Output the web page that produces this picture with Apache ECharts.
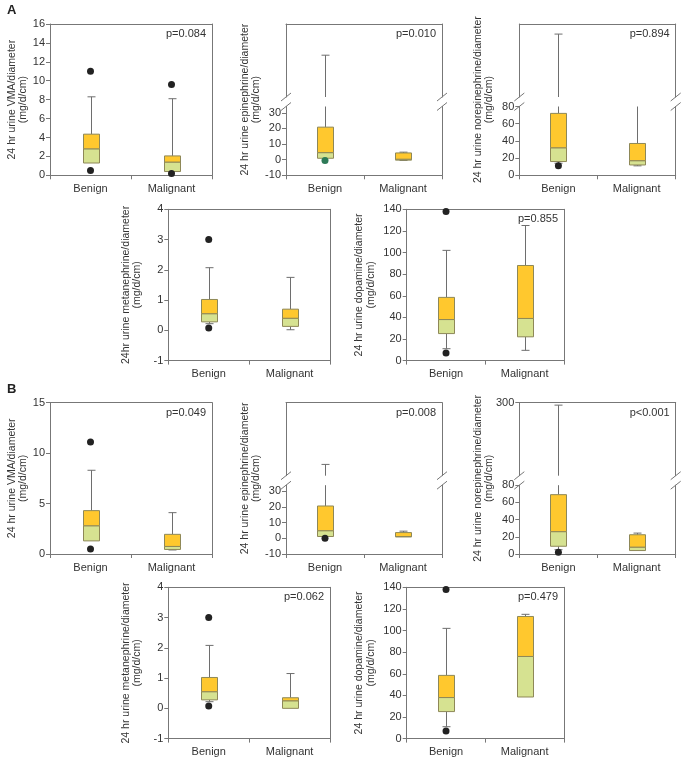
<!DOCTYPE html>
<html>
<head>
<meta charset="utf-8">
<script src="https://cdn.jsdelivr.net/npm/echarts@6/dist/echarts.min.js"></script>
<style>
  html, body { margin: 0; padding: 0; background: #fff; }
  #chart { width: 685px; height: 761px; }
</style>
</head>
<body>
<div id="chart"></div>
<script>
  const categories = ['Benign', 'Malignant'];

  // box stats per category: [low whisker, Q1, median, Q3, high whisker]
  const vmaA = [[1.3, 1.3, 2.8, 4.35, 8.3], [0.4, 0.4, 1.4, 2.05, 8.1]];
  const vmaAOut = [[0, 11], [0, 0.5], [1, 9.6], [1, 0.2]];
  const epiA = [[0.9, 0.9, 4.5, 20.8, 103], [-0.5, -0.3, 0.3, 4.3, 4.8]];
  const epiAOut = [[0, -0.6]];
  const norepiA = [[14, 16, 32, 72, 271], [11, 12, 17, 37, 85]];
  const norepiAOut = [[0, 11]];
  const metaA = [[0.22, 0.28, 0.55, 1.02, 2.07], [0.02, 0.13, 0.4, 0.7, 1.75]];
  const metaAOut = [[0, 3.0], [0, 0.08]];
  const dopaA = [[11, 25, 38, 58.5, 102], [9.5, 22, 39, 88, 125]];
  const dopaAOut = [[0, 138], [0, 7]];

  const vmaB = [[1.3, 1.3, 2.8, 4.3, 8.3], [0.4, 0.45, 0.75, 1.95, 4.1]];
  const vmaBOut = [[0, 11.1], [0, 0.5]];
  const epiB = [[1.2, 1.2, 4.9, 20.7, 57], [0.9, 0.9, 1.2, 3.7, 4.6]];
  const epiBOut = [[0, 0]];
  const norepiB = [[5, 9, 26, 69, 293], [4, 4, 8, 22.4, 24.3]];
  const norepiBOut = [[0, 2]];
  const metaB = [[0.22, 0.28, 0.55, 1.02, 2.08], [0, 0, 0.25, 0.35, 1.15]];
  const metaBOut = [[0, 3.0], [0, 0.08]];
  const dopaB = [[11, 25, 38, 58.5, 102], [38.5, 38.5, 76, 113, 115]];
  const dopaBOut = [[0, 138], [0, 7]];

  // y tick labels
  const epiTicks = [-10, 0, 10, 20, 30];
  const norepiTopTick = [300];

  const FONT = "'Liberation Sans', Arial, sans-serif";
  const AXIS = '#777';
  const TEXT = '#333';
  const ORANGE = '#FFC82E';
  const GREEN = '#D6E291';
  const EDGE = '#8E8858';
  const WHISKER = '#6e6e6e';

  const rowTop = [24, 209.3, 402.7, 587.3];
  const rowH = 151.3;
  const cols3 = [[50, 212], [286, 442], [519.3, 675.7]];
  const cols2 = [[168.3, 330], [406.7, 564]];

  const charts = [
    {row: 0, col: cols3[0], name: '24 hr urine VMA/diameter\n(mg/d/cm)', gap: 19, y: [0, 16, 2], box: vmaA, out: vmaAOut, p: 'p=0.084'},
    {row: 0, col: cols3[1], name: '24 hr urine epinephrine/diameter\n(mg/d/cm)', gap: 24, y: [-10, 34, 10], ticks: epiTicks, upper: [40, 150], box: epiA, out: epiAOut, outColor: '#2d7a57', p: 'p=0.010'},
    {row: 0, col: cols3[2], name: '24 hr urine norepinephrine/diameter\n(mg/d/cm)', gap: 24, y: [0, 80, 20], upper: [90, 300], box: norepiA, out: norepiAOut, p: 'p=0.894'},
    {row: 1, col: cols2[0], name: '24hr urine metanephrine/diameter\n(mg/d/cm)', gap: 25, y: [-1, 4, 1], box: metaA, out: metaAOut, p: ''},
    {row: 1, col: cols2[1], name: '24 hr urine dopamine/diameter\n(mg/d/cm)', gap: 30, y: [0, 140, 20], box: dopaA, out: dopaAOut, p: 'p=0.855'},
    {row: 2, col: cols3[0], name: '24 hr urine VMA/diameter\n(mg/d/cm)', gap: 19, y: [0, 15, 5], box: vmaB, out: vmaBOut, p: 'p=0.049'},
    {row: 2, col: cols3[1], name: '24 hr urine epinephrine/diameter\n(mg/d/cm)', gap: 24, y: [-10, 34, 10], ticks: epiTicks, upper: [40, 150], box: epiB, out: epiBOut, p: 'p=0.008'},
    {row: 2, col: cols3[2], name: '24 hr urine norepinephrine/diameter\n(mg/d/cm)', gap: 24, y: [0, 80, 20], upper: [90, 300], upperTicks: norepiTopTick, box: norepiB, out: norepiBOut, p: 'p<0.001'},
    {row: 3, col: cols2[0], name: '24 hr urine metanephrine/diameter\n(mg/d/cm)', gap: 25, y: [-1, 4, 1], box: metaB, out: metaBOut, p: 'p=0.062'},
    {row: 3, col: cols2[1], name: '24 hr urine dopamine/diameter\n(mg/d/cm)', gap: 30, y: [0, 140, 20], box: dopaB, out: dopaBOut, p: 'p=0.479'}
  ];

  const option = {
    animation: false,
    backgroundColor: '#fff',
    textStyle: {fontFamily: FONT},
    grid: [], xAxis: [], yAxis: [], series: [],
    graphic: [
      {type: 'text', x: 7, y: 4, style: {text: 'A', font: `bold 13px ${FONT}`, fill: '#222'}},
      {type: 'text', x: 7, y: 383, style: {text: 'B', font: `bold 13px ${FONT}`, fill: '#222'}}
    ]
  };

  // 箱体：下半绿色，上半橙色，须线按网格裁剪（断轴时上下两个网格各画一部分）
  function renderBox(params, api) {
    const cs = params.coordSys;
    const top = cs.y, bottom = cs.y + cs.height;
    const cat = api.value(0);
    const x = Math.round(api.coord([cat, 0])[0]) + 0.5;
    const y = v => api.coord([cat, v])[1];
    const clip = p => Math.min(bottom, Math.max(top, p));
    const low = api.value(1), q1 = api.value(2), med = api.value(3), q3 = api.value(4), high = api.value(5);
    const half = 8, cap = 4;
    const kids = [];
    const vline = (va, vb) => {
      const a = clip(y(va)), b = clip(y(vb));
      if (Math.abs(a - b) > 0.5) kids.push({type: 'line', shape: {x1: x, y1: a, x2: x, y2: b}, style: {stroke: WHISKER, lineWidth: 1}});
    };
    const capAt = v => {
      const p = y(v);
      if (p >= top - 0.5 && p <= bottom + 0.5) kids.push({type: 'line', shape: {x1: x - cap, y1: p, x2: x + cap, y2: p}, style: {stroke: WHISKER, lineWidth: 1}});
    };
    vline(q3, high);
    vline(q1, low);
    if (high > q3) capAt(high);
    if (low < q1) capAt(low);
    const rect = (va, vb, fill) => {
      const a = clip(y(va)), b = clip(y(vb));
      if (a - b > 0.3) kids.push({type: 'rect', shape: {x: x - half, y: b, width: half * 2, height: a - b}, style: {fill: fill, stroke: EDGE, lineWidth: 1}});
    };
    rect(q1, med, GREEN);
    rect(med, q3, ORANGE);
    return {type: 'group', children: kids};
  }

  function addGrid(left, top, width, height) {
    option.grid.push({left: left, top: top, width: width, height: height});
    return option.grid.length - 1;
  }

  function addX(g, position, labelled) {
    option.xAxis.push({
      type: 'category', gridIndex: g, position: position, data: categories,
      axisLine: {show: true, onZero: false, lineStyle: {color: AXIS}},
      axisTick: {show: labelled, length: 4, lineStyle: {color: AXIS}},
      axisLabel: {show: labelled, color: TEXT, fontSize: 11, fontFamily: FONT, margin: 8},
      splitLine: {show: false}
    });
    return option.xAxis.length - 1;
  }

  function addY(g, position, min, max, extra) {
    option.yAxis.push(Object.assign({
      type: 'value', gridIndex: g, position: position, min: min, max: max,
      splitLine: {show: false},
      axisLine: {show: true, onZero: false, lineStyle: {color: AXIS}},
      axisTick: {show: false},
      axisLabel: {show: false}
    }, extra || {}));
    return option.yAxis.length - 1;
  }

  const nameStyle = {fontSize: 10.5, lineHeight: 11.5, color: TEXT, fontFamily: FONT, align: 'center'};
  const tickStyle = {show: true, length: 4, lineStyle: {color: AXIS}};
  const labelStyle = {show: true, color: TEXT, fontSize: 11, fontFamily: FONT, margin: 5};

  function addSeries(xi, yi, c) {
    option.series.push({
      type: 'custom', xAxisIndex: xi, yAxisIndex: yi, silent: true,
      renderItem: renderBox,
      data: c.box.map((s, i) => [i].concat(s))
    });
  }

  function addOutliers(xi, yi, c) {
    option.series.push({
      type: 'scatter', xAxisIndex: xi, yAxisIndex: yi, silent: true,
      symbolSize: 7, itemStyle: {color: c.outColor || '#222', opacity: 1},
      data: c.out
    });
  }

  function slash(x, y) {
    option.graphic.push({type: 'line', shape: {x1: x - 5, y1: y + 4, x2: x + 5, y2: y - 4}, style: {stroke: AXIS, lineWidth: 1}});
  }

  charts.forEach(c => {
    const left = c.col[0], right = c.col[1], width = right - left;
    const top = rowTop[c.row];
    const [min, max, interval] = c.y;

    if (!c.upper) {
      const g = addGrid(left, top, width, rowH);
      const xb = addX(g, 'bottom', true);
      addX(g, 'top', false);
      const yl = addY(g, 'left', min, max, {
        interval: interval, axisTick: tickStyle, axisLabel: labelStyle,
        name: c.name, nameLocation: 'middle', nameGap: c.gap, nameTextStyle: nameStyle
      });
      addY(g, 'right', min, max);
      addSeries(xb, yl, c);
      addOutliers(xb, yl, c);
    } else {
      const upperH = 73, lowerOff = 82.5;
      // upper part of the broken axis
      const gu = addGrid(left, top, width, upperH);
      const xu = addX(gu, 'top', false);
      const yu = addY(gu, 'left', c.upper[0], c.upper[1], c.upperTicks ? {
        axisTick: Object.assign({customValues: c.upperTicks}, tickStyle),
        axisLabel: Object.assign({customValues: c.upperTicks}, labelStyle)
      } : {});
      addY(gu, 'right', c.upper[0], c.upper[1]);
      addSeries(xu, yu, c);
      // lower part
      const gl = addGrid(left, top + lowerOff, width, rowH - lowerOff);
      const xl = addX(gl, 'bottom', true);
      const yl = addY(gl, 'left', min, max, {
        interval: interval,
        axisTick: Object.assign(c.ticks ? {customValues: c.ticks} : {}, tickStyle),
        axisLabel: Object.assign(c.ticks ? {customValues: c.ticks} : {}, labelStyle)
      });
      addY(gl, 'right', min, max);
      addSeries(xl, yl, c);
      addOutliers(xl, yl, c);
      // axis name spanning the whole panel
      const gn = addGrid(left, top, width, rowH);
      option.xAxis.push({type: 'value', gridIndex: gn, show: false});
      addY(gn, 'left', 0, 1, {
        axisLine: {show: false},
        name: c.name, nameLocation: 'middle', nameGap: c.gap, nameTextStyle: nameStyle
      });
      slash(left, top + upperH);
      slash(left, top + lowerOff);
      slash(right, top + upperH);
      slash(right, top + lowerOff);
    }

    if (c.p) {
      option.graphic.push({
        type: 'text', x: right - 6, y: top + 10,
        style: {text: c.p, align: 'right', verticalAlign: 'middle', fill: TEXT, font: `11px ${FONT}`}
      });
    }
  });

  const chart = echarts.init(document.getElementById('chart'), null, {renderer: 'canvas'});
  chart.setOption(option);
  window.addEventListener('resize', () => chart.resize());
</script>
</body>
</html>
